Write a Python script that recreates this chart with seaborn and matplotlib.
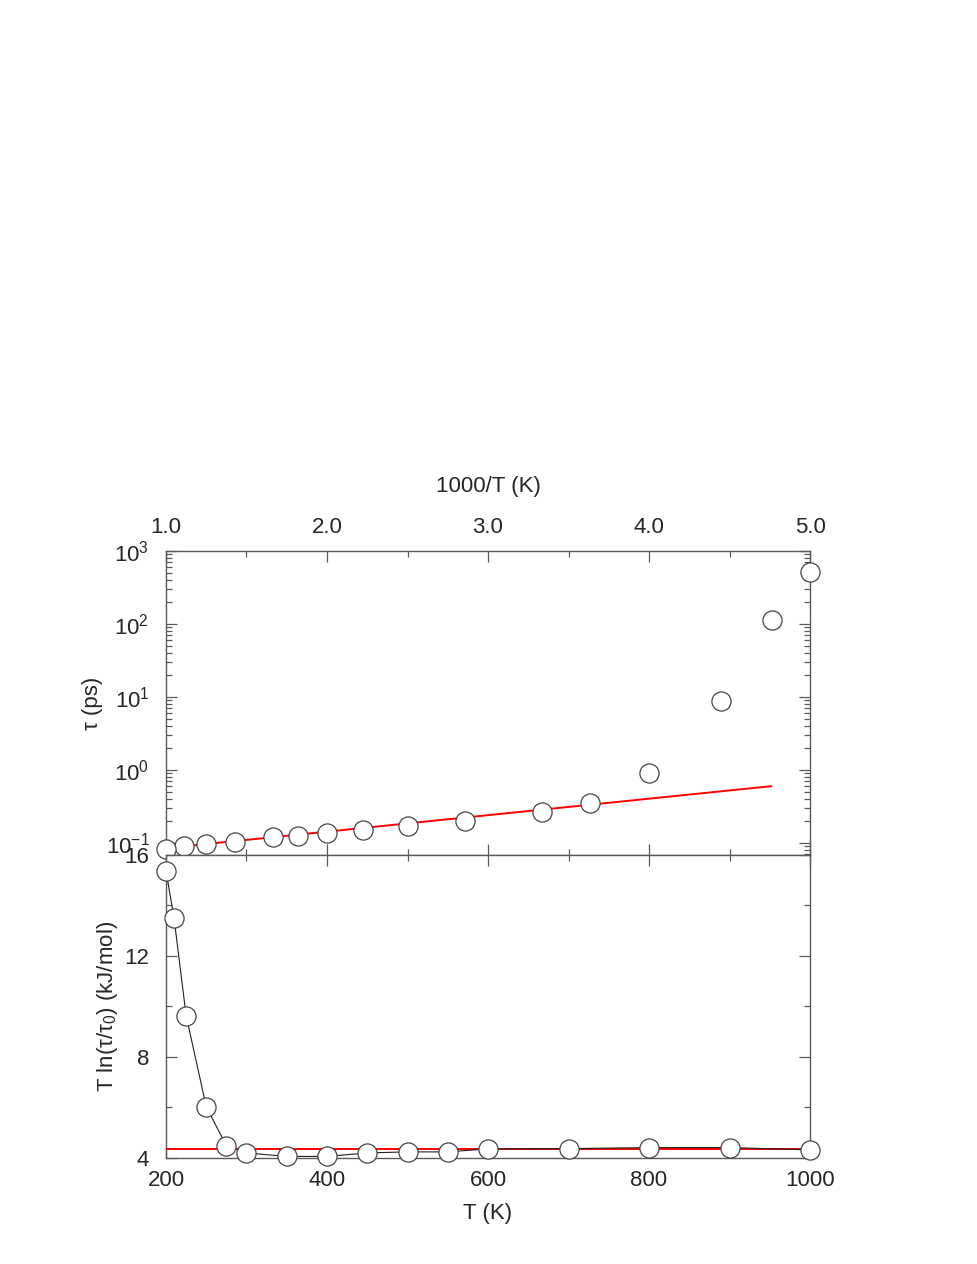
import numpy as np
import pandas as pd
import matplotlib
matplotlib.use("Agg")
import matplotlib.pyplot as plt
import seaborn as sns
from matplotlib.ticker import MultipleLocator, LogLocator, NullFormatter

# temperatures (K) and relaxation times
temps = [200, 210, 225, 250, 275, 300, 350, 400, 450, 500, 550, 600, 700, 800, 900, 1000]
tau_ps = [515, 113, 8.8, 0.91, 0.35, 0.266, 0.20, 0.171, 0.151, 0.138, 0.125, 0.12,
          0.102, 0.097, 0.091, 0.083]
# T ln(tau/tau0) in kJ/mol
energy = [15.37, 13.5, 9.64, 6.03, 4.48, 4.2, 4.06, 4.06, 4.2, 4.24, 4.24, 4.36,
          4.37, 4.41, 4.41, 4.32]

# Arrhenius fit line (top panel) and its activation energy (bottom panel)
fit_inv_t = [1.0, 4.76]
fit_tau = [0.085, 0.60]
fit_temps = [200, 1000]
fit_energy = [4.35, 4.35]

sns.set_style("ticks")
plt.rcParams["font.family"] = ["Liberation Sans", "DejaVu Sans"]
plt.rcParams["mathtext.fontset"] = "custom"
plt.rcParams["mathtext.rm"] = "Liberation Sans"
plt.rcParams["mathtext.it"] = "Liberation Sans"
plt.rcParams["mathtext.default"] = "regular"

df = pd.DataFrame({"T": temps, "tau": tau_ps, "E": energy})
df["invT"] = 1000.0 / df["T"]

fig = plt.figure(figsize=(9.77, 12.64), dpi=100)
ax1 = fig.add_axes([0.1699, 0.3236, 0.6592, 0.2405])
ax2 = fig.add_axes([0.1699, 0.0839, 0.6592, 0.2397])

edge = "#5a5a5a"
fs = 16
mk = dict(marker="o", s=190, facecolor="white", edgecolor="#444444",
          linewidth=0.9, clip_on=False, zorder=5)

# top panel
sns.lineplot(x=fit_inv_t, y=fit_tau, ax=ax1, color="red", linewidth=1.4,
             sort=False, estimator=None, zorder=3)
sns.scatterplot(data=df, x="invT", y="tau", ax=ax1, **mk)
ax1.set_yscale("log")
ax1.set_xlim(1.0, 5.0)
ax1.set_ylim(0.0685, 1000)
ax1.xaxis.set_major_locator(MultipleLocator(1.0))
ax1.xaxis.set_minor_locator(MultipleLocator(0.5))
ax1.xaxis.set_major_formatter(plt.FuncFormatter(lambda v, p: f"{v:.1f}"))
ax1.yaxis.set_major_locator(LogLocator(base=10))
ax1.yaxis.set_minor_locator(LogLocator(base=10, subs=np.arange(2, 10)))
ax1.yaxis.set_minor_formatter(NullFormatter())
ax1.tick_params(axis="x", which="both", top=True, bottom=True,
                labeltop=True, labelbottom=False)
ax1.xaxis.set_label_position("top")
ax1.set_xlabel("1000/T (K)", fontsize=fs, labelpad=18)
ax1.set_ylabel("\u03c4 (ps)", fontsize=fs, labelpad=2)

# bottom panel
sns.lineplot(x=fit_temps, y=fit_energy, ax=ax2, color="red", linewidth=1.4,
             sort=False, estimator=None, zorder=3)
sns.lineplot(data=df, x="T", y="E", ax=ax2, color="#222222", linewidth=0.8,
             sort=True, estimator=None, zorder=4)
sns.scatterplot(data=df, x="T", y="E", ax=ax2, **mk)
ax2.set_xlim(200, 1000)
ax2.set_ylim(4, 16)
ax2.xaxis.set_major_locator(MultipleLocator(200))
ax2.xaxis.set_minor_locator(MultipleLocator(100))
ax2.yaxis.set_major_locator(MultipleLocator(4))
ax2.yaxis.set_minor_locator(MultipleLocator(2))
ax2.tick_params(axis="x", which="both", top=True, bottom=True)
ax2.set_xlabel("T (K)", fontsize=fs, labelpad=8)
ax2.set_ylabel("T ln(\u03c4/\u03c4$_0$) (kJ/mol)", fontsize=fs, labelpad=3)

for ax in (ax1, ax2):
    ax.tick_params(axis="both", which="both", direction="in", color=edge,
                   width=0.9, left=True, right=True, labelsize=fs)
    ax.tick_params(axis="x", which="both", pad=9)
    ax.tick_params(axis="y", which="both", pad=12)
    ax.tick_params(which="major", length=8)
    ax.tick_params(which="minor", length=4)
    for s in ax.spines.values():
        s.set_color(edge)
        s.set_linewidth(1.0)
    ax.set_facecolor("white")

fig.savefig("out.png", dpi=100, facecolor="white")
